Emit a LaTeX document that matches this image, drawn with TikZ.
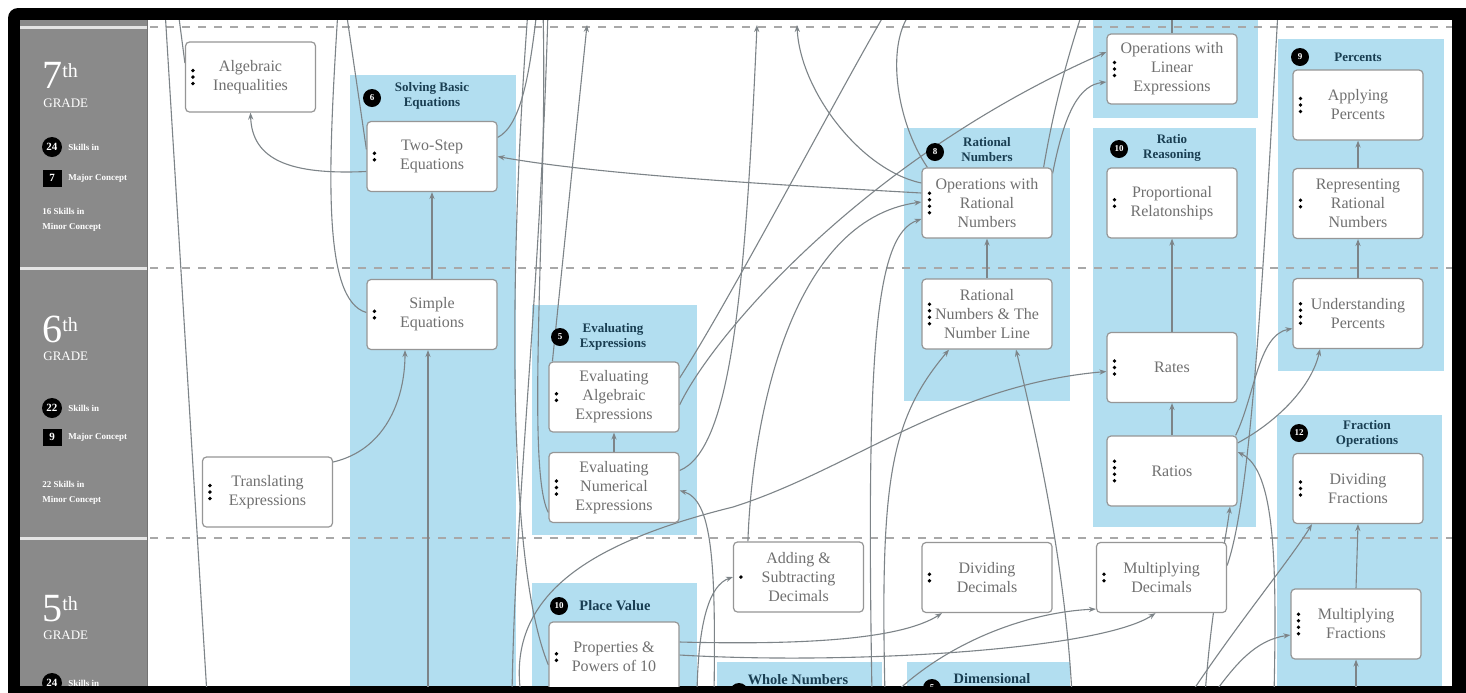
\documentclass[tikz,border=0pt]{standalone}
\usepackage{fontspec}
\setmainfont{Liberation Serif}
\usetikzlibrary{arrows.meta,calc}
\definecolor{panelblue}{RGB}{178,222,240}
\definecolor{gradegray}{RGB}{138,138,138}
\definecolor{linkgray}{RGB}{125,132,136}
\definecolor{boxline}{RGB}{150,150,150}
\definecolor{boxtext}{RGB}{112,112,112}
\definecolor{headteal}{RGB}{25,62,82}
\definecolor{dashgray}{RGB}{168,168,168}
\pgfdeclarelayer{panellayer}
\pgfdeclarelayer{linklayer}
\pgfsetlayers{panellayer,linklayer,main}
\begin{document}
\begin{tikzpicture}[x=0.5pt,y=-0.5pt,
    skill/.style={draw=boxline,fill=white,rounded corners=2pt,line width=0.6pt,
      minimum width=65pt,minimum height=35pt,align=center,text=boxtext,
      font=\fontsize{8}{9.5}\selectfont},
    link/.style={draw=linkgray,line width=0.55pt},
    arr/.style={link,-{Stealth[length=3.5pt,width=2.6pt]}},
    concept/.style={fill=panelblue},
    badge/.style={circle,fill=black,text=white,inner sep=0pt,minimum size=9pt,
      font=\fontsize{4.5}{5}\selectfont\bfseries},
    head/.style={text=headteal,align=center,inner sep=0pt,
      font=\fontsize{6.5}{7.5}\selectfont\bfseries},
    bighead/.style={head,font=\fontsize{7.2}{8}\selectfont\bfseries},
    gradenum/.style={text=white,inner sep=0pt,anchor=base west,
      font=\fontsize{20}{20}\selectfont},
    gradetxt/.style={text=white,inner sep=0pt,anchor=west,align=left,
      font=\fontsize{4.5}{7.5}\selectfont\bfseries}]
\newcommand{\skilldots}[2]{\foreach \k in {1,...,#2}
  \fill ($(#1.west)+(8,{(\k-(#2+1)/2)*6.5})$) circle (0.95pt);}
\useasboundingbox (0,0) rectangle (1466,692);
\begin{pgfonlayer}{panellayer}
\fill[white] (0,0) rectangle (1466,692);
\fill[black,rounded corners=5pt] (8,8) rectangle (1480,706);
\begin{scope}
\clip (20,20) rectangle (1452,686);
\fill[white] (20,20) rectangle (1452,686);
\fill[gradegray] (20,20) rectangle (147,686);
\draw[black!55,line width=0.8pt] (147.5,20) -- (147.5,686);
\foreach \y in {27,268,538} \draw[white!80!gray,line width=1.5pt] (20,\y) -- (147,\y);
\fill[concept] (350,75) rectangle (516,686);
\fill[concept] (532,305) rectangle (697,535);
\fill[concept] (532,583) rectangle (697,686);
\fill[concept] (717,662) rectangle (882,686);
\fill[concept] (907,662) rectangle (1070,686);
\fill[concept] (904,128) rectangle (1070,401);
\fill[concept] (1093,10) rectangle (1258,118);
\fill[concept] (1093,128) rectangle (1256,527);
\fill[concept] (1278,39) rectangle (1444,371);
\fill[concept] (1277,415) rectangle (1442,686);
\foreach \y in {27,268,538}
  \draw[dashgray,line width=0.75pt,dash pattern=on 4pt off 4pt] (150,\y) -- (1452,\y);
\end{scope}
\end{pgfonlayer}

\begin{scope}
\clip (20,20) rectangle (1452,686);
\foreach \g/\yb/\yg/\cnt/\yc/\maj/\ys/\mnr/\ym in
   {7/88/103/24/147/7/178/16/220,6/342/356/22/408/9/437/22/493}{
  \node[gradenum] (grade\g) at (42,\yb) {\g\raisebox{5.5pt}{\fontsize{10}{10}\selectfont th}};
  \node[gradetxt,font=\fontsize{6.5}{7}\selectfont] (gradelbl\g) at (43,\yg) {GRADE};
  \node[circle,fill=black,text=white,inner sep=0pt,minimum size=10pt,
    font=\fontsize{5.5}{6}\selectfont\bfseries] (skills\g) at (52,\yc) {\cnt};
  \node[gradetxt] (skillslbl\g) at (68,\yc) {Skills in};
  \node[fill=black,text=white,inner sep=0pt,minimum width=9.5pt,minimum height=8.5pt,
    font=\fontsize{5.5}{6}\selectfont\bfseries] (major\g) at (52,\ys) {\maj};
  \node[gradetxt] (majorlbl\g) at (68,\ys) {Major Concept};
  \node[gradetxt] (minorlbl\g) at (42,\ym) {\mnr{} Skills in\\Minor Concept};
}
\node[gradenum] (grade5) at (42,621) {5\raisebox{5.5pt}{\fontsize{10}{10}\selectfont th}};
\node[gradetxt,font=\fontsize{6.5}{7}\selectfont] (gradelbl5) at (43,635) {GRADE};
\node[circle,fill=black,text=white,inner sep=0pt,minimum size=10pt,
  font=\fontsize{5.5}{6}\selectfont\bfseries] (skills5) at (52,683) {24};
\node[gradetxt] (skillslbl5) at (68,683) {Skills in};

\node[badge] (badgesolve) at (372,98) {6};
\node[head] (headsolve) at (432,96) {Solving Basic\\Equations};
\node[badge] (badgeeval) at (560,337) {5};
\node[head] (headeval) at (613,337) {Evaluating\\Expressions};
\node[badge] (badgeplace) at (559,606) {10};
\node[bighead] (headplace) at (615,606) {Place Value};
\node[badge] (badgewhole) at (739,692) {};
\node[bighead] (headwhole) at (798,680) {Whole Numbers};
\node[badge] (badgedim) at (932,688) {5};
\node[bighead] (headdim) at (992,679) {Dimensional};
\node[badge] (badgerat) at (935,152) {8};
\node[head] (headrat) at (987,150) {Rational\\Numbers};
\node[badge] (badgeratio) at (1119,149) {10};
\node[head] (headratio) at (1172,148) {Ratio\\Reasoning};
\node[badge] (badgepct) at (1300,57) {9};
\node[head] (headpct) at (1358,57) {Percents};
\node[badge] (badgefrac) at (1299,433) {12};
\node[head] (headfrac) at (1367,434) {Fraction\\Operations};

\node[skill] (algineq) at (250.5,77) {Algebraic\\Inequalities};
\node[skill] (twostep) at (432,156.5) {Two-Step\\Equations};
\node[skill] (simpleeq) at (432,314.5) {Simple\\Equations};
\node[skill] (translexpr) at (267.5,492) {Translating\\Expressions};
\node[skill] (evalalg) at (614,397) {Evaluating\\Algebraic\\Expressions};
\node[skill] (evalnum) at (614,487.5) {Evaluating\\Numerical\\Expressions};
\node[skill] (addsub) at (798.5,577) {Adding \&\\Subtracting\\Decimals};
\node[skill] (proppow) at (614,657) {Properties \&\\Powers of 10};
\node[skill] (opsrat) at (987,203) {Operations with\\Rational\\Numbers};
\node[skill] (ratline) at (987,314) {Rational\\Numbers \& The\\Number Line};
\node[skill] (divdec) at (987,577.5) {Dividing\\Decimals};
\node[skill] (multdec) at (1161.5,577.5) {Multiplying\\Decimals};
\node[skill] (opslin) at (1172,69) {Operations with\\Linear\\Expressions};
\node[skill] (proport) at (1172,203) {Proportional\\Relatonships};
\node[skill] (rates) at (1172,367.5) {Rates};
\node[skill] (ratios) at (1172,471) {Ratios};
\node[skill] (applypct) at (1358,105) {Applying\\Percents};
\node[skill] (reprrat) at (1358,203.5) {Representing\\Rational\\Numbers};
\node[skill] (undpct) at (1358,313.5) {Understanding\\Percents};
\node[skill] (divfrac) at (1358,488.5) {Dividing\\Fractions};
\node[skill] (multfrac) at (1356,624) {Multiplying\\Fractions};
\foreach \n/\c in {algineq/3,twostep/2,simpleeq/2,translexpr/3,evalalg/2,evalnum/3,
   addsub/1,proppow/2,opsrat/4,ratline/4,divdec/2,multdec/2,opslin/3,proport/2,
   rates/3,ratios/4,applypct/3,reprrat/2,undpct/4,divfrac/3,multfrac/4}
  \skilldots{\n}{\c};
\end{scope}

\begin{pgfonlayer}{linklayer}
\begin{scope}
\clip (20,20) rectangle (1452,686);
\foreach \n/\x in {top1/165,top2/178,top3/346,top4/338,top5/537,top6/528,top7/543,
   top8/548,top9/887,top10/913,top11/1083,top12/1172,top13/1278}
  \coordinate (\n) at (\x,10);
\foreach \n/\x in {tip1/587,tip2/757,tip3/797}
  \coordinate (\n) at (\x,25);
\foreach \n/\x in {bot1/207,bot2/428,bot3/521,bot4/512,bot5/697,bot6/714,bot7/872,
   bot8/885,bot9/893,bot10/1072,bot11/1190,bot12/1205,bot13/1213,bot14/1274,bot15/1356}
  \coordinate (\n) at (\x,695);
\draw[link] (top1) -- (bot1);
\draw[link] (top2) -- ($(algineq.west)+(0,-14)$);
\draw[link] (top3) -- ($(twostep.west)+(0,-7)$);
\draw[link] (top4) .. controls (328,170) and (322,300) .. ($(simpleeq.west)+(0,-2)$);
\draw[arr] ($(twostep.west)+(0,15)$) .. controls (290,175) and (252,160) .. (algineq.south);
\draw[link] ($(twostep.east)+(0,-19)$) .. controls (522,125) and (530,70) .. (top5);
\draw[arr] (simpleeq.north) -- (twostep.south);
\draw[arr] ($(translexpr.east)+(0,-30)$) .. controls (385,450) and (405,400) .. ($(simpleeq.south)+(-27,0)$);
\draw[arr] (bot2) -- ($(simpleeq.south)+(-4,0)$);
\draw[arr] ($(opsrat.west)+(0,-10)$) .. controls (780,185) and (600,175) .. (twostep.east);
\draw[link] (top6) .. controls (510,250) and (505,560) .. ($(proppow.west)+(0,8)$);
\draw[link] (top7) .. controls (548,200) and (525,470) .. ($(evalnum.west)+(0,25)$);
\draw[link] (top8) .. controls (540,300) and (515,500) .. (bot4);
\draw[arr] ($(evalalg.north west)+(4,0)$) -- (tip1);
\draw[arr] (bot3) .. controls (505,590) and (600,540) .. (733,507)
  .. controls (850,470) and (950,385) .. ($(rates.west)+(0,4)$);
\draw[link] ($(evalalg.east)+(0,-19)$) .. controls (730,300) and (840,90) .. (top9);
\draw[arr] ($(evalalg.east)+(0,8)$) .. controls (710,340) and (860,160) .. ($(opslin.west)+(0,-17)$);
\draw[arr] ($(evalnum.east)+(0,-17)$) .. controls (730,450) and (745,300) .. (tip2);
\draw[arr] ($(opsrat.west)+(0,-20)$) .. controls (860,170) and (800,90) .. (tip3);
\draw[link] ($(opsrat.north west)+(6,0)$) .. controls (895,120) and (885,40) .. (top10);
\draw[link] ($(opsrat.north east)+(-9,0)$) .. controls (1055,100) and (1070,50) .. (top11);
\draw[arr] ($(opsrat.north east)+(0,6)$) .. controls (1065,110) and (1080,85) .. ($(opslin.west)+(0,13)$);
\draw[link] (opslin.north) -- (top12);
\draw[arr] (ratline.north) -- (opsrat.south);
\draw[arr] ($(addsub.north west)+(15,0)$) .. controls (752,420) and (790,220) .. ($(opsrat.west)+(0,-1)$);
\draw[arr] (bot7) .. controls (866,350) and (875,235) .. ($(opsrat.west)+(0,16)$);
\draw[arr] (bot8) .. controls (880,480) and (890,420) .. ($(ratline.south)+(-38,0)$);
\draw[arr] (bot10) .. controls (1065,560) and (1035,430) .. ($(ratline.south)+(29,0)$);
\draw[arr] (ratios.north) -- (rates.south);
\draw[arr] (rates.north) -- (proport.south);
\draw[arr] ($(ratios.east)+(0,-28)$) .. controls (1280,420) and (1312,385) .. ($(undpct.south)+(-38,0)$);
\draw[arr] ($(ratios.north east)+(-2,0)$) .. controls (1255,395) and (1258,335) .. ($(undpct.west)+(0,15)$);
\draw[link] ($(multdec.east)+(0,-12)$) .. controls (1250,500) and (1262,300) .. (top13);
\draw[arr] (bot12) .. controls (1212,600) and (1225,545) .. ($(ratios.south)+(58,0)$);
\draw[arr] (bot14) .. controls (1277,560) and (1275,470) .. ($(ratios.east)+(0,-19)$);
\draw[arr] (bot11) .. controls (1240,620) and (1290,560) .. ($(divfrac.south)+(-46,0)$);
\draw[arr] (bot13) .. controls (1235,665) and (1255,640) .. ($(multfrac.west)+(0,11)$);
\draw[arr] (multfrac.north) -- (divfrac.south);
\draw[arr] (bot15) -- (multfrac.south);
\draw[arr] (undpct.north) -- (reprrat.south);
\draw[arr] (reprrat.north) -- (applypct.south);
\draw[arr] ($(proppow.east)+(0,-15)$) .. controls (800,645) and (900,640) .. ($(divdec.south)+(-45,0)$);
\draw[arr] ($(proppow.east)+(0,-2)$) .. controls (850,665) and (1100,650) .. ($(multdec.south)+(-6,0)$);
\draw[arr] (bot9) .. controls (950,640) and (1030,612) .. ($(multdec.south west)+(0,-4)$);
\draw[arr] (bot5) .. controls (698,620) and (710,585) .. (addsub.west);
\draw[arr] (bot6) .. controls (716,560) and (712,500) .. ($(evalnum.east)+(0,3)$);
\draw[arr] (evalnum.north) -- (evalalg.south);
\end{scope}
\end{pgfonlayer}
\end{tikzpicture}
\end{document}
